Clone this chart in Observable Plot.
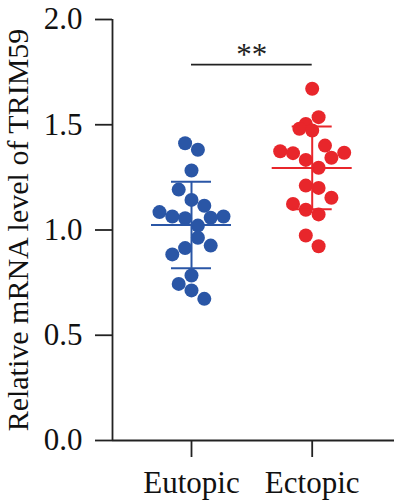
<!DOCTYPE html>
<html><head><meta charset="utf-8">
<script src="https://cdn.jsdelivr.net/npm/d3@7"></script>
<script src="https://cdn.jsdelivr.net/npm/@observablehq/plot@0.6"></script>
<style>body{margin:0;background:#fff} svg{display:block}</style>
</head><body><div id="chart"></div>
<script>
const groups = ["Eutopic", "Ectopic"];
const groupColors = ["#2a56a6", "#e8262b"];
const eutopicValues = [1.412, 1.381, 1.283, 1.192, 1.143, 1.115, 1.085, 1.064, 1.056, 1.064, 1.058, 1.021, 0.963, 0.914, 0.926, 0.884, 0.784, 0.744, 0.713, 0.673];
const eutopicSlots  = [-1, 1, 0, -2, 0, 2, -5, -3, -1, 5, 3, 1, 1, -1, 3, -3, 0, -2, 0, 2];
const ectopicValues = [1.671, 1.536, 1.504, 1.481, 1.473, 1.401, 1.374, 1.365, 1.367, 1.343, 1.333, 1.296, 1.211, 1.200, 1.153, 1.124, 1.096, 1.074, 0.974, 0.923];
const ectopicSlots  = [0, 1, -1, -2, 0, 2, -5, -3, 5, 3, -1, 1, -1, 1, 3, -3, -1, 1, -1, 1];
const yTicks = [0, 0.5, 1.0, 1.5, 2.0];
const yLabel = "Relative mRNA level of TRIM59";
const sigLabel = "**";
const sigLevel = 1.786;

// build tables
const W = 394, H = 503;
const mL = 112, mR = 0, mT = 19, mB = 63;
const pxPerGroup = 120.7;           // distance between group centres in px
const x0px = 191;                   // centre of first group in px
const xDomain = [(mL - x0px) / pxPerGroup, (W - mR - x0px) / pxPerGroup];
const slotStep = 6.4 / pxPerGroup;

const points = [];
[[eutopicValues, eutopicSlots], [ectopicValues, ectopicSlots]].forEach(([vals, slots], g) => {
  vals.forEach((v, k) => points.push({g, group: groups[g], value: v, xpos: g + slots[k] * slotStep}));
});
const stats = groups.map((name, g) => {
  const vals = g === 0 ? eutopicValues : ectopicValues;
  return {g, group: name, mean: d3.mean(vals), sd: d3.deviation(vals)};
});
const meanHalf = 40 / pxPerGroup, capHalf = 20 / pxPerGroup;
const axisColor = "#222";

const chart = Plot.plot({
  width: W, height: H,
  marginLeft: mL, marginRight: mR, marginTop: mT, marginBottom: mB,
  style: {fontFamily: "'Liberation Serif', 'DejaVu Serif', serif", fontSize: "31px", color: "#111", background: "#fff"},
  x: {type: "linear", domain: xDomain},
  y: {domain: [0, 2]},
  color: {domain: groups, range: groupColors},
  marks: [
    Plot.dot(points, {x: "xpos", y: "value", r: 7, fill: d => groupColors[d.g], stroke: "none"}),
    Plot.ruleY(stats, {y: "mean", x1: d => d.g - meanHalf, x2: d => d.g + meanHalf, stroke: d => groupColors[d.g], strokeWidth: 2}),
    Plot.ruleX(stats, {x: "g", y1: d => d.mean - d.sd, y2: d => d.mean + d.sd, stroke: d => groupColors[d.g], strokeWidth: 2}),
    Plot.ruleY(stats, {y: d => d.mean + d.sd, x1: d => d.g - capHalf, x2: d => d.g + capHalf, stroke: d => groupColors[d.g], strokeWidth: 2}),
    Plot.ruleY(stats, {y: d => d.mean - d.sd, x1: d => d.g - capHalf, x2: d => d.g + capHalf, stroke: d => groupColors[d.g], strokeWidth: 2}),
    // significance bracket
    Plot.ruleY([sigLevel], {x1: 0, x2: 1, stroke: axisColor, strokeWidth: 1.8}),
    Plot.text([sigLabel], {x: 0.5, y: sigLevel, text: d => d, lineAnchor: "bottom", fill: "#222"}),
    // axes
    Plot.ruleY([0], {stroke: axisColor, strokeWidth: 1.8}),
    Plot.ruleX([xDomain[0]], {y1: 0, y2: 2, stroke: axisColor, strokeWidth: 1.8}),
    Plot.axisY({ticks: yTicks, tickFormat: d3.format(".1f"), tickSize: 17, tickPadding: 13, strokeWidth: 1.8, stroke: axisColor, label: null}),
    Plot.axisY({ticks: [], fontSize: 30, label: yLabel, labelAnchor: "center", labelArrow: "none", labelOffset: 106}),
    Plot.axisX({ticks: [0, 1], tickFormat: i => groups[i], tickSize: 17, tickPadding: 13, strokeWidth: 1.8, stroke: axisColor, label: null})
  ]
});
document.getElementById("chart").appendChild(chart);
</script>
</body></html>
